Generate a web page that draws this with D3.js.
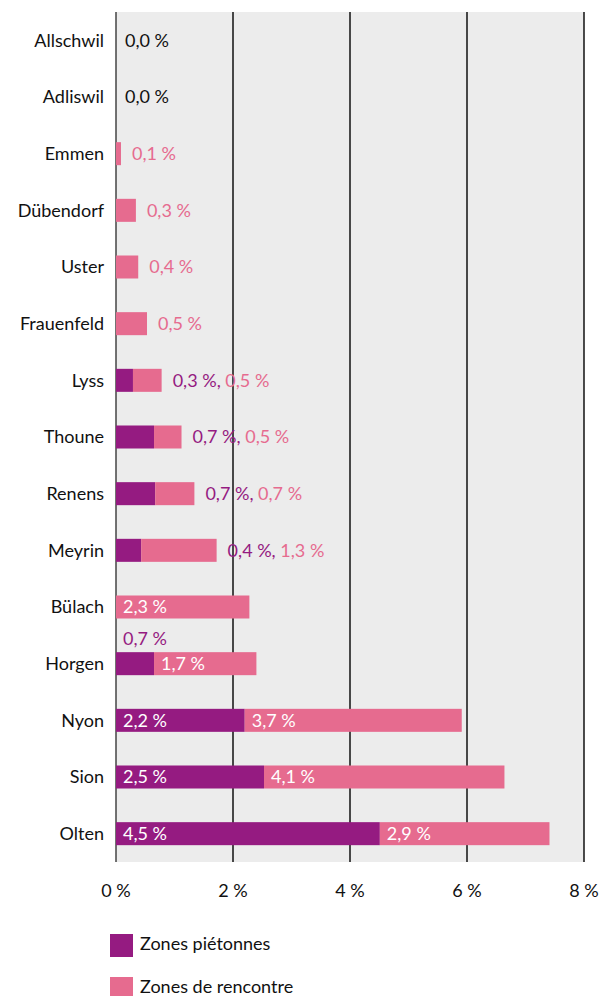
<!DOCTYPE html>
<html>
<head>
<meta charset="utf-8">
<script src="https://cdn.jsdelivr.net/npm/d3@7"></script>
<style>
  body { margin: 0; background: #fff; }
  text { font-family: Lato, "Open Sans", sans-serif; }
</style>
</head>
<body>
<div id="chart"></div>
<script>
// Data
var cities = ["Allschwil", "Adliswil", "Emmen", "Dübendorf", "Uster", "Frauenfeld", "Lyss",
  "Thoune", "Renens", "Meyrin", "Bülach", "Horgen", "Nyon", "Sion", "Olten"];
var pietonnes = [0, 0, 0, 0, 0, 0, 0.29, 0.65, 0.67, 0.43, 0, 0.65, 2.2, 2.53, 4.51];
var rencontre = [0, 0, 0.085, 0.34, 0.38, 0.53, 0.49, 0.47, 0.67, 1.29, 2.28, 1.75, 3.71, 4.11, 2.9];
var pietLabels = ["", "", "", "", "", "", "0,3", "0,7", "0,7", "0,4", "", "0,7", "2,2", "2,5", "4,5"];
var rencLabels = ["0,0", "0,0", "0,1", "0,3", "0,4", "0,5", "0,5", "0,5", "0,7", "1,3", "2,3", "1,7", "3,7", "4,1", "2,9"];
var xTicks = [0, 2, 4, 6, 8];
var seriesNames = ["Zones piétonnes", "Zones de rencontre"];
var colors = ["#951b81", "#e66b8f"];

var svgWidth = 602;
var svgHeight = 996;
var margin = { top: 12, right: 18, bottom: 134, left: 116 };
var chartWidth = svgWidth - margin.left - margin.right;
var chartHeight = svgHeight - margin.top - margin.bottom;
var fontSize = 18;
var pct = "\u00A0%";

var svg = d3.select("#chart").append("svg")
  .attr("width", svgWidth)
  .attr("height", svgHeight);

var g = svg.append("g")
  .attr("transform", `translate(${margin.left}, ${margin.top})`);

var x = d3.scaleLinear().domain([0, 8]).range([0, chartWidth]);
var y = d3.scaleBand().domain(cities).range([0, chartHeight]).paddingInner(0.594).paddingOuter(0.297);

// plot background
g.append("rect")
  .attr("width", chartWidth)
  .attr("height", chartHeight)
  .attr("fill", "#ececec");

// gridlines
g.selectAll(".grid")
  .data(xTicks)
  .enter()
  .append("line")
  .attr("x1", d => x(d))
  .attr("x2", d => x(d))
  .attr("y1", 0)
  .attr("y2", chartHeight)
  .attr("stroke", d => d === 0 ? "#444" : "#111")
  .attr("stroke-width", 1.5);

// x tick labels
g.selectAll(".xtick")
  .data(xTicks)
  .enter()
  .append("text")
  .attr("x", d => x(d))
  .attr("y", chartHeight + 35)
  .attr("text-anchor", "middle")
  .attr("font-size", fontSize)
  .attr("fill", "#111")
  .text(d => d + pct);

// category labels
g.selectAll(".cat")
  .data(cities)
  .enter()
  .append("text")
  .attr("x", -12)
  .attr("y", d => y(d) + y.bandwidth() / 2)
  .attr("dy", "0.35em")
  .attr("text-anchor", "end")
  .attr("font-size", fontSize)
  .attr("fill", "#111")
  .text(d => d);

// bars
var rows = cities.map((c, i) => ({ city: c, p: pietonnes[i], r: rencontre[i], pl: pietLabels[i], rl: rencLabels[i] }));

g.selectAll(".barP")
  .data(rows.filter(d => d.p > 0))
  .enter()
  .append("rect")
  .attr("x", 0)
  .attr("y", d => y(d.city))
  .attr("width", d => x(d.p))
  .attr("height", y.bandwidth())
  .attr("fill", colors[0]);

g.selectAll(".barR")
  .data(rows.filter(d => d.r > 0))
  .enter()
  .append("rect")
  .attr("x", d => x(d.p))
  .attr("y", d => y(d.city))
  .attr("width", d => x(d.r))
  .attr("height", y.bandwidth())
  .attr("fill", colors[1]);

// value labels
rows.forEach(function(d) {
  var cy = y(d.city) + y.bandwidth() / 2;
  var end = x(d.p + d.r);
  if (d.r === 0) {
    g.append("text").attr("x", end + 9).attr("y", cy).attr("dy", "0.35em")
      .attr("font-size", fontSize).attr("fill", "#111").text(d.rl + pct);
  } else if (d.r + d.p < 2) {
    var t = g.append("text").attr("x", end + 11).attr("y", cy).attr("dy", "0.35em")
      .attr("font-size", fontSize);
    if (d.p > 0) {
      t.append("tspan").attr("fill", colors[0]).text(d.pl + pct + ", ");
    }
    t.append("tspan").attr("fill", colors[1]).text(d.rl + pct);
  } else {
    if (d.p > 1) {
      g.append("text").attr("x", 7).attr("y", cy).attr("dy", "0.35em")
        .attr("font-size", fontSize).attr("fill", "#fff").text(d.pl + pct);
    } else if (d.p > 0) {
      // small segment: label above the bar
      g.append("text").attr("x", 7).attr("y", cy - 25).attr("dy", "0.35em")
        .attr("font-size", fontSize).attr("fill", colors[0]).text(d.pl + pct);
    }
    g.append("text").attr("x", x(d.p) + 7).attr("y", cy).attr("dy", "0.35em")
      .attr("font-size", fontSize).attr("fill", "#fff").text(d.rl + pct);
  }
});

// legend
var legend = svg.append("g").attr("transform", "translate(110, 934)");
seriesNames.forEach(function(name, i) {
  legend.append("rect")
    .attr("x", 0)
    .attr("y", i * 43)
    .attr("width", 23)
    .attr("height", 23)
    .attr("fill", colors[i]);
  legend.append("text")
    .attr("x", 30)
    .attr("y", i * 43 + 10)
    .attr("dy", "0.35em")
    .attr("font-size", fontSize)
    .attr("fill", "#111")
    .text(name);
});
</script>
</body>
</html>
